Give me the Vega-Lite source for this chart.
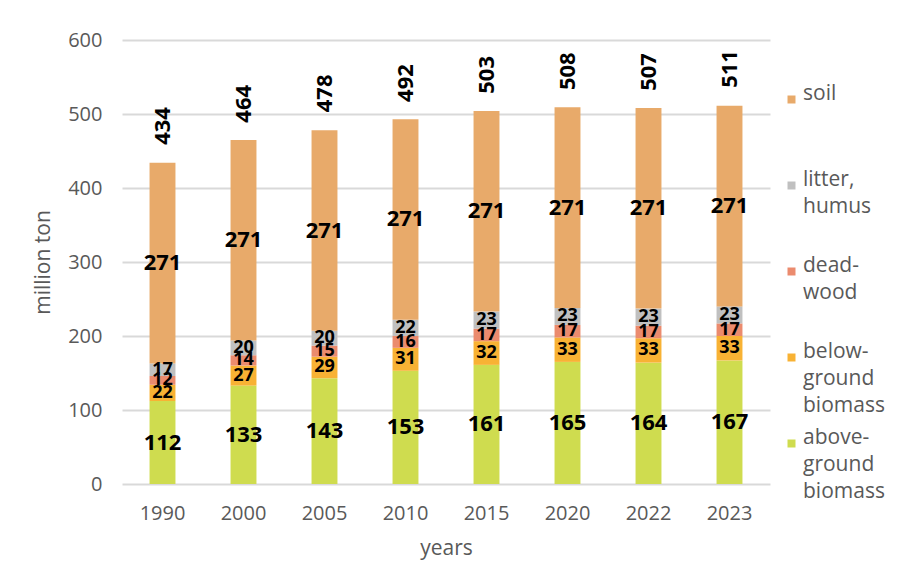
{
  "$schema": "https://vega.github.io/schema/vega-lite/v6.json",
  "width": 648,
  "height": 444,
  "autosize": {"type": "none"},
  "padding": {"left": 122, "top": 40, "right": 136, "bottom": 81},
  "background": "white",
  "config": {
    "view": {"stroke": null},
    "font": "Open Sans",
    "style": {"guide-label": {"lineHeight": 27}}
  },
  "datasets": {
    "parts": [
      {"year": "1990", "component": "above-ground biomass", "value": 112},
      {"year": "1990", "component": "below-ground biomass", "value": 22},
      {"year": "1990", "component": "dead-wood", "value": 12},
      {"year": "1990", "component": "litter, humus", "value": 17},
      {"year": "1990", "component": "soil", "value": 271},
      {"year": "2000", "component": "above-ground biomass", "value": 133},
      {"year": "2000", "component": "below-ground biomass", "value": 27},
      {"year": "2000", "component": "dead-wood", "value": 14},
      {"year": "2000", "component": "litter, humus", "value": 20},
      {"year": "2000", "component": "soil", "value": 271},
      {"year": "2005", "component": "above-ground biomass", "value": 143},
      {"year": "2005", "component": "below-ground biomass", "value": 29},
      {"year": "2005", "component": "dead-wood", "value": 15},
      {"year": "2005", "component": "litter, humus", "value": 20},
      {"year": "2005", "component": "soil", "value": 271},
      {"year": "2010", "component": "above-ground biomass", "value": 153},
      {"year": "2010", "component": "below-ground biomass", "value": 31},
      {"year": "2010", "component": "dead-wood", "value": 16},
      {"year": "2010", "component": "litter, humus", "value": 22},
      {"year": "2010", "component": "soil", "value": 271},
      {"year": "2015", "component": "above-ground biomass", "value": 161},
      {"year": "2015", "component": "below-ground biomass", "value": 32},
      {"year": "2015", "component": "dead-wood", "value": 17},
      {"year": "2015", "component": "litter, humus", "value": 23},
      {"year": "2015", "component": "soil", "value": 271},
      {"year": "2020", "component": "above-ground biomass", "value": 165},
      {"year": "2020", "component": "below-ground biomass", "value": 33},
      {"year": "2020", "component": "dead-wood", "value": 17},
      {"year": "2020", "component": "litter, humus", "value": 23},
      {"year": "2020", "component": "soil", "value": 271},
      {"year": "2022", "component": "above-ground biomass", "value": 164},
      {"year": "2022", "component": "below-ground biomass", "value": 33},
      {"year": "2022", "component": "dead-wood", "value": 17},
      {"year": "2022", "component": "litter, humus", "value": 23},
      {"year": "2022", "component": "soil", "value": 271},
      {"year": "2023", "component": "above-ground biomass", "value": 167},
      {"year": "2023", "component": "below-ground biomass", "value": 33},
      {"year": "2023", "component": "dead-wood", "value": 17},
      {"year": "2023", "component": "litter, humus", "value": 23},
      {"year": "2023", "component": "soil", "value": 271}
    ],
    "totals": [
      {"year": "1990", "total": 434},
      {"year": "2000", "total": 464},
      {"year": "2005", "total": 478},
      {"year": "2010", "total": 492},
      {"year": "2015", "total": 503},
      {"year": "2020", "total": 508},
      {"year": "2022", "total": 507},
      {"year": "2023", "total": 511}
    ]
  },
  "layer": [
    {
      "data": {"name": "parts"},
      "mark": {"type": "bar"},
      "encoding": {
        "x": {
          "field": "year", "type": "ordinal", "title": "years",
          "scale": {"paddingInner": 0.68, "paddingOuter": 0.34},
          "axis": {
            "labelAngle": 0, "domain": false, "ticks": false, "grid": false,
            "labelFontSize": 20, "labelColor": "#595959", "labelPadding": 19,
            "titleFontSize": 21, "titleColor": "#595959", "titleFontWeight": "normal", "titlePadding": 14
          }
        },
        "y": {
          "field": "value", "type": "quantitative", "stack": "zero", "title": "million ton",
          "scale": {"domain": [0, 600], "nice": false},
          "axis": {
            "values": [0, 100, 200, 300, 400, 500, 600],
            "domain": false, "ticks": false, "grid": true, "gridColor": "#D9D9D9", "gridWidth": 2,
            "labelFontSize": 20, "labelColor": "#595959", "labelPadding": 20,
            "titleFontSize": 21, "titleColor": "#595959", "titleFontWeight": "normal", "titlePadding": 14
          }
        },
        "color": {
          "field": "component", "type": "nominal",
          "scale": {
            "domain": ["soil", "litter, humus", "dead-wood", "below-ground biomass", "above-ground biomass"],
            "range": ["#E8AA6A", "#C0C0C0", "#EB8B6E", "#F8B234", "#CFDC4F"]
          },
          "legend": {
            "orient": "none", "legendX": 659, "legendY": 49, "title": null, "padding": 0,
            "symbolType": "square", "symbolSize": 64, "symbolStrokeWidth": 0,
            "labelFontSize": 21, "labelColor": "#595959", "labelOffset": 1, "labelLimit": 200,
            "labelBaseline": "alphabetic", "rowPadding": 10,
            "labelExpr": "datum.label == 'soil' ? ['soil', '', ''] : datum.label == 'litter, humus' ? ['litter,', 'humus', ''] : datum.label == 'dead-wood' ? ['dead-', 'wood', ''] : datum.label == 'below-ground biomass' ? ['below-', 'ground', 'biomass'] : ['above-', 'ground', 'biomass']"
          }
        },
        "order": {"field": "component", "sort": "ascending"}
      }
    },
    {
      "data": {"name": "parts"},
      "transform": [
        {"stack": "value", "groupby": ["year"], "sort": [{"field": "component", "order": "ascending"}], "as": ["lo", "hi"]},
        {"fold": ["lo", "hi"], "as": ["edge", "pos"]}
      ],
      "mark": {"type": "text", "fontWeight": "bold", "color": "black", "baseline": "middle"},
      "encoding": {
        "x": {"field": "year", "type": "ordinal", "title": "years"},
        "y": {"aggregate": "mean", "field": "pos", "type": "quantitative", "stack": null, "title": "million ton"},
        "text": {"field": "value", "type": "quantitative"},
        "detail": {"field": "component"},
        "size": {
          "condition": {"test": "datum.component == 'soil' || datum.component == 'above-ground biomass'", "value": 22},
          "value": 18
        }
      }
    },
    {
      "data": {"name": "totals"},
      "mark": {"type": "text", "fontWeight": "bold", "color": "black", "fontSize": 22, "angle": 270, "align": "left", "baseline": "middle", "dx": 18},
      "encoding": {
        "x": {"field": "year", "type": "ordinal", "title": "years"},
        "y": {"field": "total", "type": "quantitative", "title": "million ton"},
        "text": {"field": "total", "type": "quantitative"}
      }
    }
  ]
}
